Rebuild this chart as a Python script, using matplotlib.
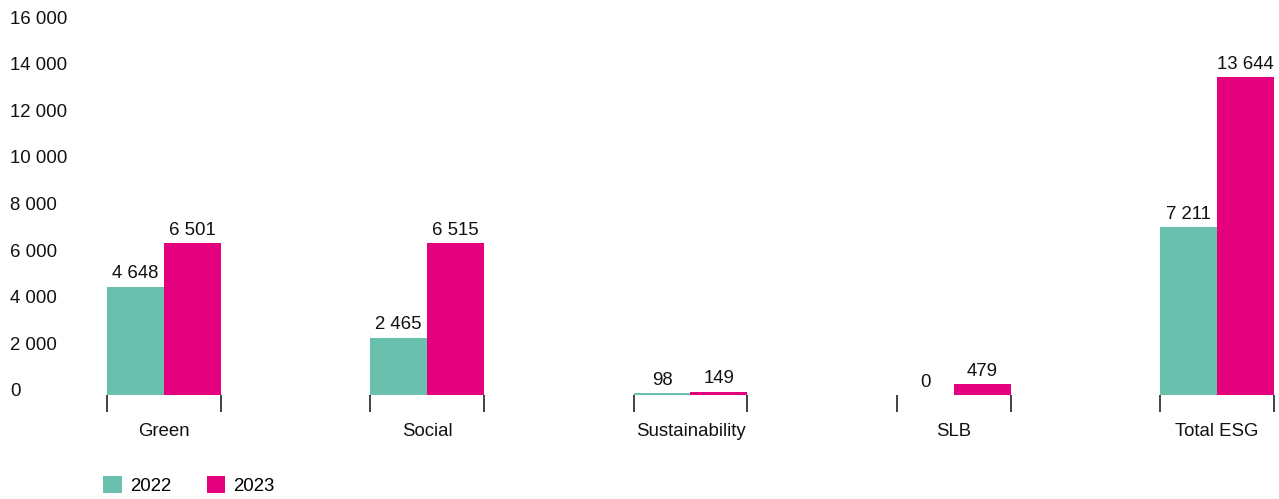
import matplotlib.pyplot as plt
from matplotlib.transforms import ScaledTranslation

plt.rcParams['font.family'] = ['Liberation Sans', 'DejaVu Sans']

categories = ['Green', 'Social', 'Sustainability', 'SLB', 'Total ESG']
values_2022 = [4648, 2465, 98, 0, 7211]
values_2023 = [6501, 6515, 149, 479, 13644]
years = ['2022', '2023']
y_ticks = [0, 2000, 4000, 6000, 8000, 10000, 12000, 14000, 16000]

TEAL = '#69c1ad'
PINK = '#e5007e'
FS = 13.4

W, H = 1279, 499
fig = plt.figure(figsize=(W / 100, H / 100), dpi=100)
ax = fig.add_axes([107 / W, (H - 395) / H, (1274 - 107) / W, (395 - 22) / H])

bw = 0.2163
x = list(range(len(categories)))

def fmt(v):
    return f"{v:,}".replace(",", " ")

b1 = ax.bar([i - bw / 2 for i in x], values_2022, width=bw, color=TEAL, label=years[0])
b2 = ax.bar([i + bw / 2 for i in x], values_2023, width=bw, color=PINK, label=years[1])

for bars, vals in ((b1, values_2022), (b2, values_2023)):
    for rect, v in zip(bars, vals):
        ax.annotate(fmt(v), (rect.get_x() + rect.get_width() / 2, v),
                    xytext=(0, 3), textcoords='offset points',
                    ha='center', va='bottom', fontsize=FS, color='#111111')

ax.set_xlim(-bw, len(categories) - 1 + bw)
ax.set_ylim(0, 16000)

for s in ax.spines.values():
    s.set_visible(False)

# group edge ticks
edges = []
for i in x:
    edges += [i - bw, i + bw]
ax.set_xticks(edges)
ax.set_xticklabels([])
ax.tick_params(axis='x', which='major', direction='out', length=12, width=1.2, color='#222222')
ax.set_xticks(x, minor=True)
ax.set_xticklabels(categories, minor=True, fontsize=FS, color='#111111')
ax.tick_params(axis='x', which='minor', length=0, pad=20)

ax.set_yticks(y_ticks)
ax.set_yticklabels([fmt(v) for v in y_ticks], fontsize=FS, color='#111111', ha='left')
ax.tick_params(axis='y', length=0, pad=(107 - 10) * 0.72)
for lab in ax.get_yticklabels():
    lab.set_transform(lab.get_transform() + ScaledTranslation(0, 5 / 100, fig.dpi_scale_trans))

fig.legend(handles=[b1, b2], labels=years, loc='lower left',
           bbox_to_anchor=(103 / W, 4 / H), frameon=False, ncol=2,
           fontsize=FS, handlelength=1.0, handleheight=1.0,
           handletextpad=0.45, columnspacing=1.9, borderpad=0, borderaxespad=0)

fig.savefig('out.png', dpi=100)
